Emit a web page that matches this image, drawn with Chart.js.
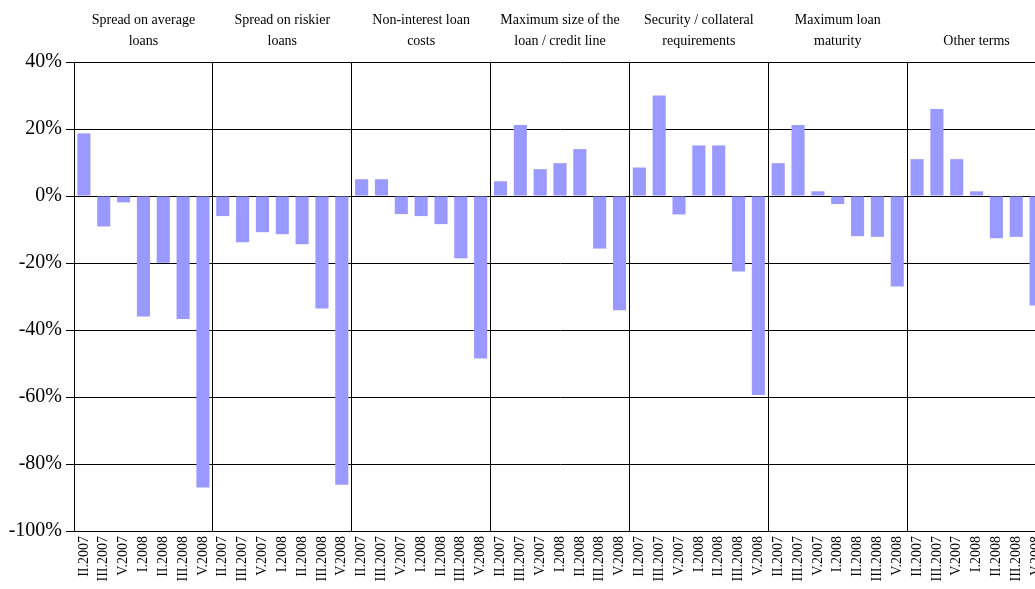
<!DOCTYPE html>
<html>
<head>
<meta charset="utf-8">
<script src="https://cdn.jsdelivr.net/npm/chart.js@4/dist/chart.umd.min.js"></script>
<style>
    html, body { margin: 0; padding: 0; background: #fff; overflow: hidden; }
    canvas { display: block; }
</style>
</head>
<body>
<canvas id="termsChart" width="1046" height="589"></canvas>
<script>
// Survey periods (repeat for each panel)
const periods = ['II.2007', 'III.2007', 'V.2007', 'I.2008', 'II.2008', 'III.2008', 'V.2008'];

// Panel titles
const groupTitles = [
    ['Spread on average', 'loans'],
    ['Spread on riskier', 'loans'],
    ['Non-interest loan', 'costs'],
    ['Maximum size of the', 'loan / credit line'],
    ['Security / collateral', 'requirements'],
    ['Maximum loan', 'maturity'],
    ['Other terms']
];

// Net percentage per panel (%)
const spreadAverage = [18.7, -9.1, -1.9, -36.0, -19.9, -36.7, -87.0];
const spreadRiskier = [-6.0, -13.8, -10.8, -11.4, -14.4, -33.6, -86.2];
const nonInterestCosts = [5.0, 5.0, -5.4, -6.0, -8.4, -18.6, -48.5];
const maxLoanSize = [4.4, 21.2, 8.0, 9.8, 14.0, -15.7, -34.1];
const collateral = [8.5, 30.0, -5.5, 15.1, 15.1, -22.5, -59.4];
const maxMaturity = [9.8, 21.2, 1.4, -2.4, -12.0, -12.2, -27.0];
const otherTerms = [11.0, 26.0, 11.0, 1.4, -12.6, -12.2, -32.7];

const yTicks = [40, 20, 0, -20, -40, -60, -80, -100];

const panels = [spreadAverage, spreadRiskier, nonInterestCosts, maxLoanSize, collateral, maxMaturity, otherTerms];
const labels = panels.flatMap(() => periods);
const values = panels.flat();

const serif = '"Liberation Serif", "Times New Roman", serif';

const groupTitlePlugin = {
    id: 'groupTitles',
    afterDraw(chart) {
        const ctx = chart.ctx;
        const x = chart.scales.x;
        ctx.save();
        ctx.fillStyle = '#000';
        ctx.font = '14px ' + serif;
        ctx.textAlign = 'center';
        ctx.textBaseline = 'middle';
        groupTitles.forEach((lines, g) => {
            const n = periods.length;
            const cx = (x.getPixelForValue(g * n) + x.getPixelForValue(g * n + n - 1)) / 2;
            const lastY = 41;
            lines.forEach((line, i) => {
                const y = lastY - (lines.length - 1 - i) * 21;
                ctx.fillText(line, cx, y);
            });
        });
        ctx.restore();
    }
};

new Chart(document.getElementById('termsChart'), {
    type: 'bar',
    data: {
        labels: labels,
        datasets: [{
            data: values,
            backgroundColor: '#9999ff',
            borderWidth: 0,
            categoryPercentage: 1,
            barPercentage: 0.66
        }]
    },
    options: {
        responsive: false,
        animation: false,
        layout: { padding: { top: 62, left: 0, right: 0, bottom: 0 } },
        plugins: {
            legend: { display: false },
            tooltip: { enabled: false }
        },
        scales: {
            x: {
                grid: {
                    offset: true,
                    drawTicks: false,
                    color: ctx => (ctx.index % periods.length === 0 ? '#000' : 'rgba(0,0,0,0)'),
                    lineWidth: 1
                },
                border: { color: '#000', width: 1 },
                ticks: {
                    autoSkip: false,
                    maxRotation: 90,
                    minRotation: 90,
                    padding: 5,
                    color: '#000',
                    font: { family: serif, size: 14 }
                },
                afterFit: scale => {
                    scale.height = 58;
                    scale.paddingLeft = 0;
                    scale.paddingRight = 0;
                }
            },
            y: {
                min: -100,
                max: 40,
                afterBuildTicks: scale => { scale.ticks = yTicks.map(v => ({ value: v })); },
                grid: {
                    color: '#000',
                    lineWidth: 1,
                    tickLength: 8
                },
                border: { color: '#000', width: 1 },
                ticks: {
                    padding: 4,
                    color: '#000',
                    font: { family: serif, size: 20 },
                    callback: v => v + '%'
                },
                afterFit: scale => {
                    scale.width = 74;
                    scale.paddingTop = 0;
                    scale.paddingBottom = 0;
                }
            }
        }
    },
    plugins: [groupTitlePlugin]
});
</script>
</body>
</html>
